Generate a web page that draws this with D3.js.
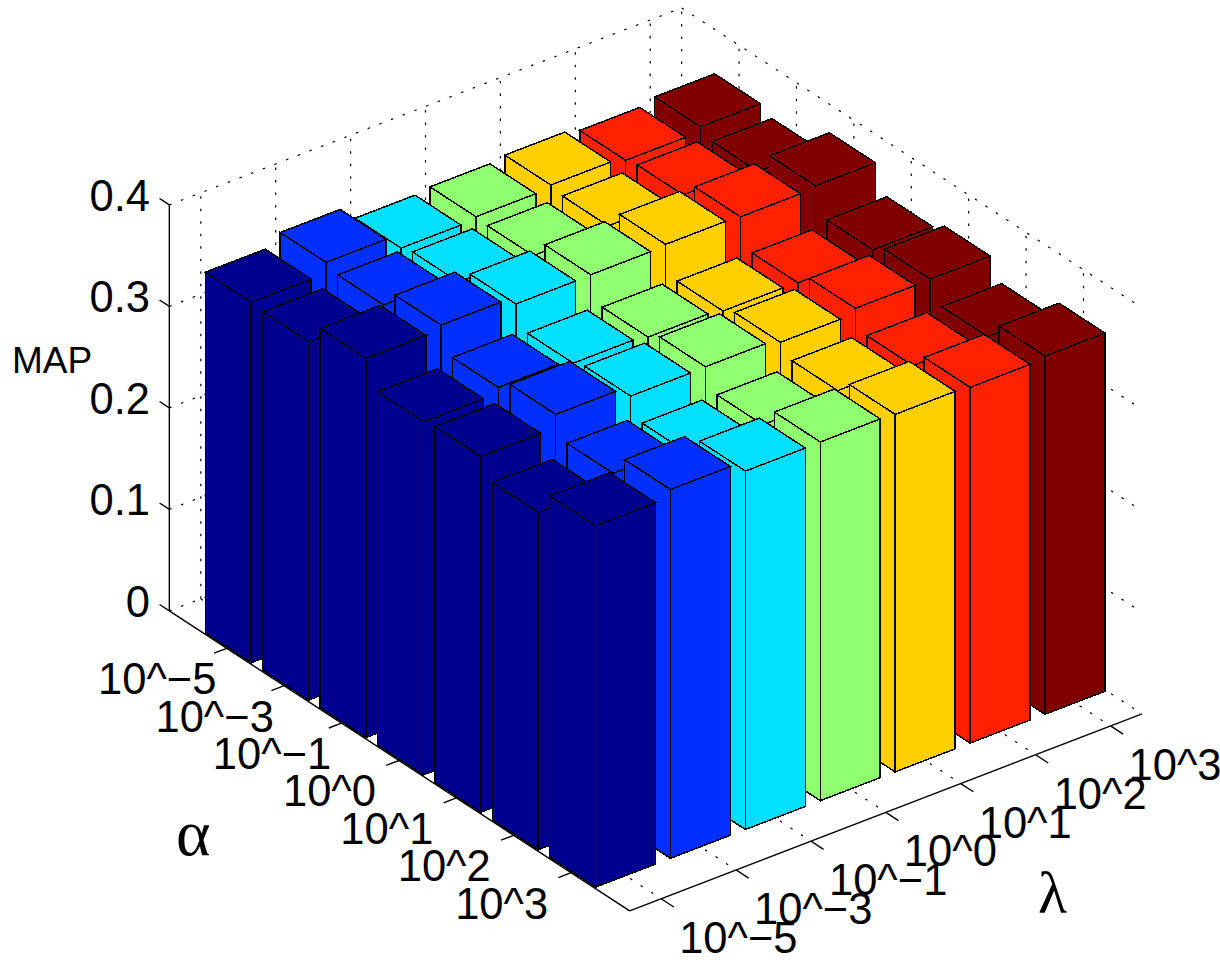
<!DOCTYPE html>
<html>
<head>
<meta charset="utf-8">
<script src="https://d3js.org/d3.v7.min.js"></script>
<style>
html,body{margin:0;padding:0;background:#fff;overflow:hidden}
svg{display:block}
text{font-family:"Liberation Sans",Arial,sans-serif;fill:#000}
</style>
</head>
<body>
<svg id="chart" width="1220" height="969"></svg>
<script>
const alphaLabels = ["10^\u22125","10^\u22123","10^\u22121","10^0","10^1","10^2","10^3"];
const lambdaLabels = ["10^\u22125","10^\u22123","10^\u22121","10^0","10^1","10^2","10^3"];
const mapTicks = [0,0.1,0.2,0.3,0.4];
const mapTickLabels = ["0","0.1","0.2","0.3","0.4"];

// MAP per alpha (front-going), one list per lambda
const lambda1 = [.3552,.3530,.3735,.3479,.3506,.3323,.3560];
const lambda2 = [.3660,.3610,.3779,.3534,.3637,.3424,.3633];
const lambda3 = [.3517,.3553,.3703,.3489,.3533,.3340,.3531];
const lambda4 = [.3542,.3528,.3708,.3462,.3538,.3335,.3534];
const lambda5 = [.3571,.3537,.3723,.3435,.3495,.3388,.3522];
const lambda6 = [.3530,.3559,.3711,.3429,.3546,.3351,.3505];
const lambda7 = [.3577,.3505,.3733,.3471,.3551,.3353,.3529];
const seriesValues = [lambda1,lambda2,lambda3,lambda4,lambda5,lambda6,lambda7];
const seriesColors = ["#00008f","#002fff","#00dfff","#8fff6f","#ffcf00","#ff2000","#800000"];

// oblique projection built from linear scales
const uRange = [-1, 7.02], vRange = [-0.42, 6.42];
const ux = d3.scaleLinear().domain([0,1]).range([0,57.4]);
const uy = d3.scaleLinear().domain([0,1]).range([0,37.4]);
const vx = d3.scaleLinear().domain([0,1]).range([0,74.9]);
const vy = d3.scaleLinear().domain([0,1]).range([0,-28.8]);
const zy = d3.scaleLinear().domain([0,0.4]).range([0,-406]);
const alphaPos = d3.scalePoint().domain(alphaLabels).range([0,6]);
const lambdaPos = d3.scalePoint().domain(lambdaLabels).range([0,6]);
const O = [258.2, 636.2];
const P = (u,v,z=0) => [O[0]+ux(u)+vx(v), O[1]+uy(u)+vy(v)+zy(z)];
const line = d3.line();
const svg = d3.select("#chart");

// dotted grid
const grid = svg.append("g").attr("fill","none").attr("stroke","#000")
  .attr("stroke-width",1.2).attr("stroke-dasharray","2.5 10");
const gridLine = (a,b) => grid.append("path").attr("d", line([a,b]));
const us = alphaLabels.map(d=>alphaPos(d));
const vs = lambdaLabels.map(d=>lambdaPos(d));
us.forEach(u=>{ gridLine(P(u,vRange[0]),P(u,vRange[1])); gridLine(P(u,vRange[1]),P(u,vRange[1],0.4)); });
vs.forEach(v=>{ gridLine(P(uRange[0],v),P(uRange[1],v)); gridLine(P(uRange[0],v),P(uRange[0],v,0.4)); });
mapTicks.forEach(z=>{
  gridLine(P(uRange[0],vRange[0],z),P(uRange[0],vRange[1],z));
  gridLine(P(uRange[0],vRange[1],z),P(uRange[1],vRange[1],z));
});
gridLine(P(uRange[0],vRange[1]),P(uRange[0],vRange[1],0.4));

// axes
const axes = svg.append("g").attr("fill","none").attr("stroke","#000").attr("stroke-width",1.4);
const axisLine = (a,b) => axes.append("path").attr("d", line([a,b]));
axisLine(P(uRange[0],vRange[0]),P(uRange[1],vRange[0]));
axisLine(P(uRange[1],vRange[0]),P(uRange[1],vRange[1]));
axisLine(P(uRange[0],vRange[0]),P(uRange[0],vRange[0],0.4));
us.forEach(u=>axisLine(P(u,vRange[0]),P(u,vRange[0]-0.17)));
vs.forEach(v=>axisLine(P(uRange[1],v),P(uRange[1]+0.22,v)));
mapTicks.forEach(z=>axisLine(P(uRange[0],vRange[0],z),P(uRange[0]-0.17,vRange[0],z)));

// bars, painted back to front
const w = 0.4;
const barsG = svg.append("g").attr("stroke","#000").attr("stroke-width",1.5)
  .attr("stroke-linejoin","miter").attr("shape-rendering","crispEdges");
alphaLabels.forEach(al=>{
  const a = alphaPos(al), i = alphaLabels.indexOf(al);
  [...lambdaLabels].reverse().forEach(ll=>{
    const l = lambdaPos(ll), j = lambdaLabels.indexOf(ll);
    const z = seriesValues[j][i], c = seriesColors[j];
    const L0=P(a-w,l-w), F0=P(a+w,l-w), R0=P(a+w,l+w);
    const Lt=P(a-w,l-w,z), Ft=P(a+w,l-w,z), Rt=P(a+w,l+w,z), Bt=P(a-w,l+w,z);
    [[L0,F0,Ft,Lt],[F0,R0,Rt,Ft],[Lt,Ft,Rt,Bt]].forEach(pts=>{
      barsG.append("path").attr("d", line(pts)+"Z").attr("fill",c);
    });
  });
});

// tick labels
const labels = svg.append("g").attr("font-size",43.5);
mapTicks.forEach((z,i)=>{
  const p = P(uRange[0],vRange[0],z);
  labels.append("text").attr("x",150).attr("y",p[1]-9+15).attr("text-anchor","end").text(mapTickLabels[i]);
});
alphaLabels.forEach(d=>{
  const p = P(alphaPos(d),vRange[0]);
  labels.append("text").attr("x",p[0]-69.5).attr("y",p[1]+31+15).attr("text-anchor","middle").text(d);
});
lambdaLabels.forEach(d=>{
  const p = P(uRange[1],lambdaPos(d));
  labels.append("text").attr("x",p[0]+18).attr("y",p[1]+39+15).attr("text-anchor","start").text(d);
});
svg.append("text").attr("x",12).attr("y",373).attr("font-size",37).text("MAP");
svg.append("text").attr("x",176).attr("y",855).attr("font-size",66)
  .style("font-family","'Liberation Serif',serif").text("\u03b1");
svg.append("text").attr("x",1038).attr("y",913).attr("font-size",60)
  .style("font-family","'Liberation Serif',serif").text("\u03bb");
</script>
</body>
</html>
